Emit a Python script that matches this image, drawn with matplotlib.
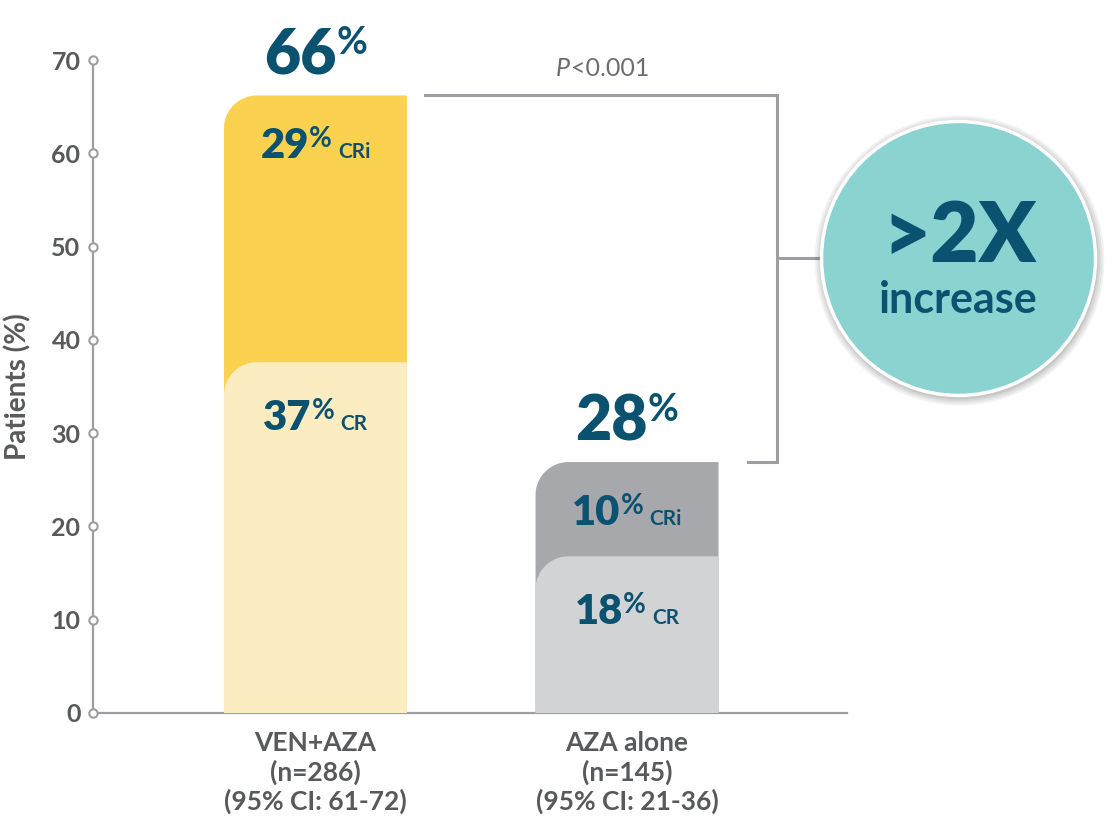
import numpy as np
import matplotlib
matplotlib.use("Agg")
import matplotlib.pyplot as plt
from matplotlib.patches import Polygon, Ellipse

FONT = ["Lato", "DejaVu Sans"]
TEAL = "#0a5270"
GRAY_TXT = "#58595b"
GRAY_LINE = "#9d9ea1"

# values
groups = ["VEN+AZA\n(n=286)\n(95% CI: 61-72)", "AZA alone\n(n=145)\n(95% CI: 21-36)"]
total_pct = [66, 28]
cr_pct = [37, 18]
cri_pct = [29, 10]
cr_bar = [37.6, 16.8]      # drawn heights as they appear in the picture
total_bar = [66.2, 26.9]
yticks = [0, 10, 20, 30, 40, 50, 60, 70]
p_value = "<0.001"

cri_colors = ["#fbd24f", "#a7a8ab"]
cr_colors = ["#fbecc1", "#d2d3d5"]

fig = plt.figure(figsize=(11.15, 8.26), dpi=100)
W, H = 1115, 826
ax = fig.add_axes([93 / W, 1 - 713 / H, (847 - 93) / W, (713 - 60) / H])
x_lo, x_hi = -0.714, 1.706
ax.set_xlim(x_lo, x_hi)
ax.set_ylim(0, 70)

px_x = (847 - 93) / (x_hi - x_lo)   # pixels per x unit
px_y = (713 - 60) / 70.0            # pixels per y unit
bar_w = 183 / px_x
xs = np.arange(len(groups))
renderer = fig.canvas.get_renderer()


def rounded_bar(xc, top, color, r_px=33, z=2):
    rx, ry = r_px / px_x, r_px / px_y
    x0, x1 = xc - bar_w / 2, xc + bar_w / 2
    t = np.linspace(np.pi / 2, np.pi, 30)
    arc = np.column_stack([x0 + rx + rx * np.cos(t), top - ry + ry * np.sin(t)])
    pts = np.vstack([[x0, 0], [x1, 0], [x1, top], arc])
    ax.add_patch(Polygon(pts, closed=True, facecolor=color, edgecolor="none", zorder=z))


def runs_text(xc, y, runs, dy_px=0, color=TEAL):
    """Draw text pieces side by side, centred on xc, baseline at y (data) + dy_px."""
    widths = []
    for s, size, rise, gap, weight, style in runs:
        t = ax.text(0, 0, s, fontsize=size, fontweight=weight, family=FONT, style=style)
        widths.append(t.get_window_extent(renderer).width + gap)
        t.remove()
    off = -sum(widths) / 2
    for (s, size, rise, gap, weight, style), w in zip(runs, widths):
        off += gap
        ax.annotate(s, (xc, y), xytext=(off * 0.72, (dy_px + rise) * 0.72),
                    textcoords="offset points", ha="left", va="baseline",
                    fontsize=size, fontweight=weight, family=FONT, color=color,
                    style=style, annotation_clip=False, zorder=6)
        off += w - gap


for i, xc in enumerate(xs):
    rounded_bar(xc, total_bar[i], cri_colors[i], z=2)
    rounded_bar(xc, cr_bar[i], cr_colors[i], z=3)
    runs_text(xc, total_bar[i], [(f"{total_pct[i]}", 45, 0, 0, "heavy", "normal"),
                                 ("%", 27, 19, 0, "bold", "normal")], dy_px=22)
    runs_text(xc, total_bar[i], [(f"{cri_pct[i]}", 30, 0, 0, "heavy", "normal"),
                                 ("%", 20, 11, 0, "bold", "normal"),
                                 ("CRi", 15, 0, 6, "bold", "normal")], dy_px=-63)
    runs_text(xc, cr_bar[i], [(f"{cr_pct[i]}", 30, 0, 0, "heavy", "normal"),
                              ("%", 20, 11, 0, "bold", "normal"),
                              ("CR", 15, 0, 6, "bold", "normal")], dy_px=-68)

# bracket with p-value
bx0 = xs[0] + bar_w / 2 + 18 / px_x
bx1 = xs[1] + bar_w / 2 + 58 / px_x
bx2 = xs[1] + bar_w / 2 + 29 / px_x
ax.plot([bx0, bx1, bx1, bx2], [total_bar[0], total_bar[0], total_bar[1], total_bar[1]],
        color=GRAY_LINE, lw=2.2, solid_joinstyle="miter", clip_on=False, zorder=4)

circ_x = bx1 + 182 / px_x
circ_y = total_bar[0] - 163 / px_y
r_px = 137
ax.plot([bx1, circ_x], [circ_y, circ_y], color=GRAY_LINE, lw=2.2, clip_on=False, zorder=4)
for k, a in enumerate([0.05, 0.05, 0.06, 0.07]):
    g = 8 - 2 * k
    ax.add_patch(Ellipse((circ_x + 1 / px_x, circ_y - 2 / px_y), 2 * (r_px + g) / px_x,
                         2 * (r_px + g) / px_y, facecolor="#000000", alpha=a,
                         edgecolor="none", clip_on=False, zorder=4))
ax.add_patch(Ellipse((circ_x, circ_y), 2 * r_px / px_x, 2 * r_px / px_y,
                     facecolor="#8bd3d0", edgecolor="white", lw=2.5, clip_on=False, zorder=5))
ax.annotate(">2X", (circ_x, circ_y), xytext=(1, -4 * 0.72), textcoords="offset points",
            ha="center", va="baseline", fontsize=60, fontweight="heavy", family=FONT,
            color=TEAL, annotation_clip=False, zorder=6)
ax.annotate("increase", (circ_x, circ_y), xytext=(0, -55 * 0.72), textcoords="offset points",
            ha="center", va="baseline", fontsize=31, fontweight="bold", family=FONT,
            color=TEAL, annotation_clip=False, zorder=6)

pv_x = (bx0 + bx1) / 2 + 2 / px_x
runs_text(pv_x, total_bar[0], [("P", 18, 0, 0, "normal", "italic"),
                               (p_value, 18, 0, 1, "normal", "normal")],
          dy_px=19, color="#6d6e71")

# axes styling
for side in ["top", "right"]:
    ax.spines[side].set_visible(False)
for side in ["left", "bottom"]:
    ax.spines[side].set_color(GRAY_LINE)
    ax.spines[side].set_linewidth(1.6)
ax.set_yticks(yticks)
ax.set_yticklabels([str(v) for v in yticks], family=FONT, fontsize=18,
                   fontweight="bold", color=GRAY_TXT)
ax.tick_params(axis="y", length=0, pad=9)
ax.plot([x_lo] * len(yticks), yticks, "o", ms=6, mfc="white", mec=GRAY_LINE, mew=1.5,
        clip_on=False, zorder=5)
ax.set_xticks(xs)
ax.set_xticklabels(groups, family=FONT, fontsize=19, fontweight="bold",
                   color=GRAY_TXT, linespacing=1.2)
ax.tick_params(axis="x", length=0, pad=13)
ax.set_ylabel("Patients (%)", family=FONT, fontsize=20, fontweight="bold",
              color=GRAY_TXT, labelpad=14)

fig.savefig("out.png", dpi=100)
